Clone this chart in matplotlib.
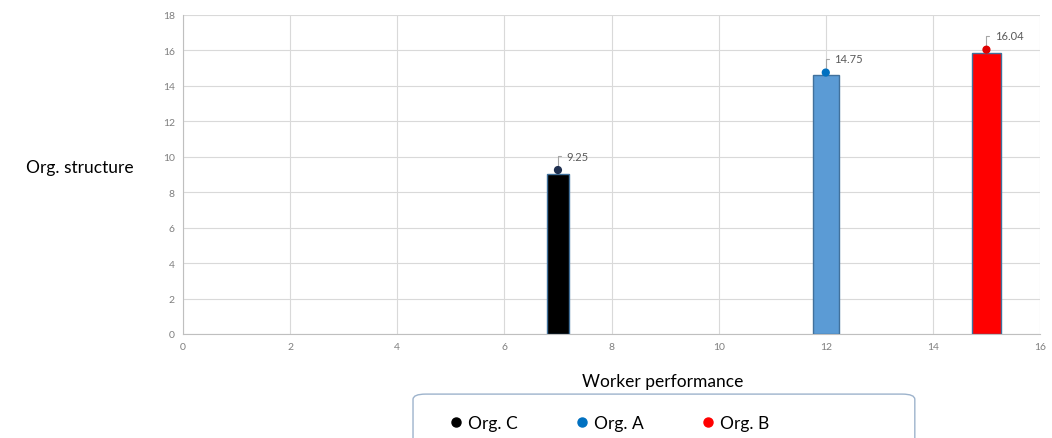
import matplotlib.pyplot as plt
from matplotlib.lines import Line2D
from matplotlib.patches import FancyBboxPatch

plt.rcParams["font.family"] = ["Lato", "DejaVu Sans"]

ORGS = ["Org. C", "Org. A", "Org. B"]
PERFORMANCE = [7, 12, 15]
BAR_HEIGHT = [9.05, 14.6, 15.85]
BAR_WIDTH = [0.42, 0.48, 0.54]
STRUCTURE = [9.25, 14.75, 16.04]
BAR_COLORS = ["#000000", "#5b9bd5", "#ff0000"]
POINT_COLORS = ["#1f3050", "#0070c0", "#e00000"]
LEGEND_COLORS = ["#000000", "#0070c0", "#ff0000"]
X_TICKS = list(range(0, 17, 2))
Y_TICKS = list(range(0, 19, 2))

fig = plt.figure(figsize=(10.52, 4.39), dpi=100)
ax = fig.add_axes([0.174, 0.237, 0.8146, 0.7267])

ax.bar(PERFORMANCE, BAR_HEIGHT, width=BAR_WIDTH, color=BAR_COLORS,
       edgecolor="#41719c", linewidth=1.0, zorder=3)
ax.scatter(PERFORMANCE, STRUCTURE, s=24, color=POINT_COLORS, zorder=4)

for x, v in zip(PERFORMANCE, STRUCTURE):
    ax.annotate(f"{v:.2f}", xy=(x, v), xytext=(6, 10), textcoords="offset points",
                ha="left", va="center", fontsize=8, color="#595959",
                arrowprops=dict(arrowstyle="-", color="#a6a6a6", lw=0.8,
                                shrinkA=2, shrinkB=3,
                                connectionstyle="angle,angleA=0,angleB=90,rad=0"))

ax.set_xlim(0, 16)
ax.set_ylim(0, 18)
ax.set_xticks(X_TICKS)
ax.set_yticks(Y_TICKS)
ax.tick_params(length=0, labelsize=7.5, labelcolor="#7f7f7f", pad=6)
ax.grid(True, color="#d9d9d9", lw=0.8, zorder=0)
ax.set_axisbelow(True)
for side in ("top", "right"):
    ax.spines[side].set_visible(False)
for side in ("left", "bottom"):
    ax.spines[side].set_color("#bfbfbf")

ax.set_xlabel("Worker performance", fontsize=12.5, va="center")
ax.xaxis.set_label_coords(0.56, -0.147)
ax.set_ylabel("Org. structure", fontsize=12.5, rotation=0, ha="center", va="center")
ax.yaxis.set_label_coords(-0.12, 0.523)

# legend frame runs off the bottom edge, as in the original
frame = FancyBboxPatch((0.3926, -0.1), 0.477, 0.2,
                       boxstyle="round,pad=0,rounding_size=0.012",
                       transform=fig.transFigure, facecolor="white",
                       edgecolor="#9db3cc", lw=1.0, clip_on=False)
fig.patches.append(frame)

handles = [Line2D([], [], marker="o", ls="none", color=c, markersize=6.5)
           for c in LEGEND_COLORS]
fig.legend(handles, ORGS, loc="center left", bbox_to_anchor=(0.41, 0.034),
           ncol=3, frameon=False, fontsize=12.5, handletextpad=0.2,
           columnspacing=3.2, handlelength=1.0)

fig.savefig("out.png", dpi=100)
